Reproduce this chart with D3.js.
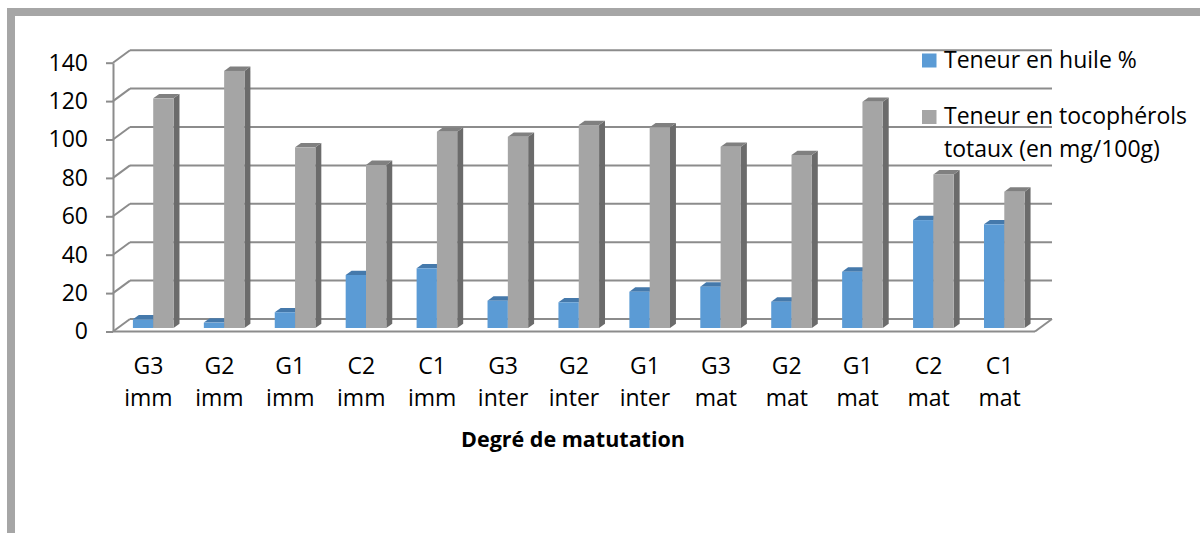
<!DOCTYPE html>
<html>
<head>
<meta charset="utf-8">
<script src="https://cdn.jsdelivr.net/npm/d3@7"></script>
<style>
  html, body { margin: 0; padding: 0; background: #fff; }
  svg { display: block; }
  text { font-family: "Open Sans", Lato, sans-serif; fill: #000; }
</style>
</head>
<body>
<svg id="chart" width="1200" height="533"></svg>
<script>
// Maturation stages (two-line labels split on the space)
const categories = ["G3 imm", "G2 imm", "G1 imm", "C2 imm", "C1 imm",
                    "G3 inter", "G2 inter", "G1 inter",
                    "G3 mat", "G2 mat", "G1 mat", "C2 mat", "C1 mat"];
// Oil content (%)
const huile = [4.5, 2.8, 8.2, 27.6, 31.1, 14.2, 13.4, 18.9, 21.5, 13.7, 29.3, 56.2, 54.0];
// Total tocopherols (mg/100g)
const tocopherols = [119.6, 133.9, 94.1, 84.9, 102.2, 99.6, 105.7, 104.5, 94.4, 90.1, 117.8, 80.0, 71.0];
const yTicks = [0, 20, 40, 60, 80, 100, 120, 140];
const seriesKeys = ["huile", "tocopherols"];
const legendLabels = [["Teneur en huile %"], ["Teneur en tocophérols", "totaux (en mg/100g)"]];
const xTitle = "Degré de matutation";

const colors = {
  huile:       { front: "#5b9bd5", top: "#4579ab", side: "#3d6c98" },
  tocopherols: { front: "#a5a5a5", top: "#808080", side: "#6b6b6b" }
};

const FONT = "Open Sans";
const FS = 23;

const svg = d3.select("#chart");

// Outer frame
svg.append("rect")
  .attr("x", 11).attr("y", 12).attr("width", 1250).attr("height", 600)
  .attr("fill", "none").attr("stroke", "#a6a6a6").attr("stroke-width", 8);

// Front plane of the pseudo-3D plot and depth offsets
const X0 = 113, X1 = 1035;
const DX = 17, DY = 12.5;
const y = d3.scaleLinear().domain([0, 140]).range([331.5, 62.7]);
const x = d3.scaleBand().domain(categories).range([X0, X1]);
const xs = d3.scaleBand().domain(seriesKeys).range([0, x.bandwidth()]).paddingInner(0).paddingOuter(0.746);

const gridColor = "#8c8c8c";
const grid = svg.append("g").attr("stroke", gridColor).attr("stroke-width", 2).attr("fill", "none");

// Back wall grid lines and left wall diagonals
yTicks.forEach(v => {
  grid.append("line")
    .attr("x1", X0 + DX).attr("x2", X1 + DX)
    .attr("y1", y(v) - DY).attr("y2", y(v) - DY);
  grid.append("line")
    .attr("x1", X0).attr("y1", y(v))
    .attr("x2", X0 + DX).attr("y2", y(v) - DY);
});
// Floor front and right edges
grid.append("line").attr("x1", X0).attr("x2", X1).attr("y1", y(0)).attr("y2", y(0));
grid.append("line").attr("x1", X1).attr("y1", y(0)).attr("x2", X1 + DX).attr("y2", y(0) - DY);

// Y axis on the front-left edge
const yAxis = svg.append("g")
  .attr("transform", `translate(${X0},0)`)
  .call(d3.axisLeft(y).tickValues(yTicks).tickSize(7).tickSizeOuter(0).tickPadding(18));
yAxis.select(".domain").attr("stroke", gridColor).attr("stroke-width", 2);
yAxis.selectAll(".tick line").attr("stroke", gridColor).attr("stroke-width", 2);
yAxis.selectAll(".tick text").attr("font-size", FS).attr("font-family", FONT).attr("fill", "#000");

// X axis labels (two lines each)
const xAxis = svg.append("g")
  .attr("transform", `translate(0,${y(0)})`)
  .call(d3.axisBottom(x).tickSize(0).tickPadding(0));
xAxis.select(".domain").remove();
xAxis.selectAll(".tick text")
  .attr("font-size", FS).attr("font-family", FONT).attr("fill", "#000")
  .attr("y", 0).attr("dy", null)
  .each(function(d) {
    const t = d3.select(this);
    t.text(null);
    d.split(" ").forEach((part, i) => {
      t.append("tspan").attr("x", 0).attr("y", 42.5 + i * 32).text(part);
    });
  });

// Bars: front depth 0.28, back depth 0.63 of the floor
const D0 = 0.28, D1 = 0.63;
const rows = categories.map((c, i) => ({ cat: c, huile: huile[i], tocopherols: tocopherols[i] }));
const bars = svg.append("g");
rows.forEach(r => {
  seriesKeys.forEach(k => {
    const v = r[k];
    const xl = x(r.cat) + xs(k) + D0 * DX;
    const xr = xl + xs.bandwidth();
    const yt = y(v) - D0 * DY;
    const yb = y(0) - D0 * DY;
    const ox = (D1 - D0) * DX, oy = (D1 - D0) * DY;
    const c = colors[k];
    const g = bars.append("g");
    // right side face
    g.append("polygon")
      .attr("points", [[xr, yt], [xr + ox, yt - oy], [xr + ox, yb - oy], [xr, yb]].join(" "))
      .attr("fill", c.side);
    // top face
    g.append("polygon")
      .attr("points", [[xl, yt], [xl + ox, yt - oy], [xr + ox, yt - oy], [xr, yt]].join(" "))
      .attr("fill", c.top);
    // front face
    g.append("rect")
      .attr("x", xl).attr("y", yt)
      .attr("width", xr - xl).attr("height", yb - yt)
      .attr("fill", c.front);
  });
});

// Axis title
svg.append("text")
  .attr("x", 573).attr("y", 447)
  .attr("text-anchor", "middle")
  .attr("font-size", 21.5).attr("font-weight", "bold").attr("font-family", FONT)
  .text(xTitle);

// Legend
const legend = svg.append("g");
const legendY = [67.5, 124];
seriesKeys.forEach((k, i) => {
  legend.append("rect")
    .attr("x", 922).attr("y", legendY[i] - 14)
    .attr("width", 14.5).attr("height", 14)
    .attr("fill", colors[k].front);
  const t = legend.append("text")
    .attr("x", 944).attr("y", legendY[i])
    .attr("font-size", FS).attr("font-family", FONT);
  legendLabels[i].forEach((line, j) => {
    t.append("tspan").attr("x", 944).attr("y", legendY[i] + j * 33).text(line);
  });
});
</script>
</body>
</html>
